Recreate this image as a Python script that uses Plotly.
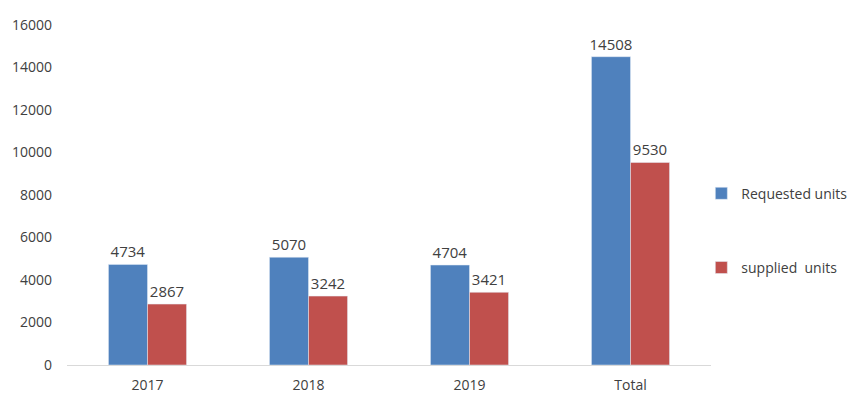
import plotly.graph_objects as go

categories = ["2017", "2018", "2019", "Total"]
requested = [4734, 5070, 4704, 14508]
supplied = [2867, 3242, 3421, 9530]
y_ticks = [0, 2000, 4000, 6000, 8000, 10000, 12000, 14000, 16000]

font_family = "Open Sans, Liberation Sans, sans-serif"
text_color = "#404040"

fig = go.Figure()
fig.add_trace(go.Bar(
    x=categories, y=requested, name="Requested units",
    marker_color="#4F81BD", text=requested, textposition="outside",
    textfont=dict(size=15, color=text_color), cliponaxis=False,
    constraintext="none", legendgroup="a",
))
fig.add_trace(go.Bar(
    x=categories, y=supplied, name="supplied  units",
    marker_color="#C0504D", text=supplied, textposition="outside",
    textfont=dict(size=15, color=text_color), cliponaxis=False,
    constraintext="none", legendgroup="b",
))

fig.update_layout(
    width=848, height=388,
    margin=dict(l=59, r=145, t=17, b=31, autoexpand=False),
    paper_bgcolor="white", plot_bgcolor="white",
    barmode="group", bargap=0.515, bargroupgap=0,
    font=dict(family=font_family, size=14, color=text_color),
    legend=dict(x=0.985, y=0.395, xanchor="left", yanchor="middle",
                tracegroupgap=53, itemwidth=30,
                font=dict(size=14, color=text_color)),
    xaxis=dict(showline=True, linecolor="#D9D9D9", linewidth=1, ticks="",
               showgrid=False, tickfont=dict(size=14, color=text_color),
               ticklabelstandoff=7),
    yaxis=dict(range=[0, 16000], tickvals=y_ticks,
               ticktext=[str(v) for v in y_ticks], showgrid=False,
               zeroline=False, showline=False, ticks="",
               tickfont=dict(size=14, color=text_color), ticklabelstandoff=14),
)

fig.write_html("out.html")
